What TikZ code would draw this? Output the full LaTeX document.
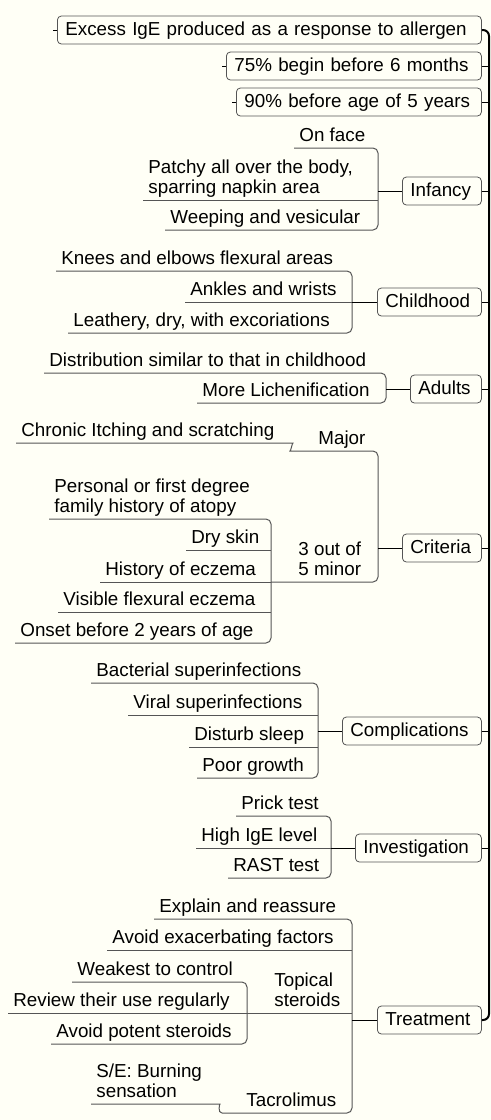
\documentclass[tikz,border=0pt]{standalone}
\usepackage{fontspec}
\setmainfont{Liberation Sans}
\usetikzlibrary{calc}
\definecolor{paper}{RGB}{255,255,246}
\definecolor{lines}{RGB}{85,85,85}

\begin{document}
\begin{tikzpicture}[x=0.5pt, y=-0.5pt,
    every node/.style={font=\fontsize{9.4}{10}\selectfont},
    topic/.style={draw=lines, rounded corners=2pt, anchor=west, inner xsep=4pt, inner ysep=0pt,
      minimum height=14pt, text width=#1, align=left, text height=7pt, text depth=2pt},
    leaf/.style={anchor=south west, inner xsep=2.5pt, inner ysep=0pt, align=left, execute at end node=\strut},
    branch/.style={draw=lines, line width=0.5pt, rounded corners=2.5pt},
    link/.style={draw=black, line width=0.5pt},
    spine/.style={draw=black, line width=1pt, rounded corners=3pt}]
		%%%%% START %%%%%
		\fill[paper] (0, 0) rectangle (491, 1120);
		\useasboundingbox (0, 0) rectangle (491, 1120);
		
		% first three topics
		\node[topic=204pt] (excess) at (57, 30) {Excess IgE produced as a response to allergen};
		\node[topic=119.5pt] (begin) at (226, 66) {75\% begin before 6 months};
		\node[topic=114.5pt] (age) at (236, 102) {90\% before age of 5 years};
		\draw[link] (excess.west) -- ++(-4, 0);
		\draw[link] (begin.west) -- ++(-4, 0);
		\draw[link] (age.west) -- ++(-4, 0);
		
		% infancy
		\node[topic=31.5pt] (infancy) at (402, 191) {Infancy};
		\coordinate (infancy-b) at (378, 191);
		\node[leaf] (face) at (294, 148) {On face};
		\node[leaf] (patchy) at (143, 200) {Patchy all over the body,\\sparring napkin area};
		\node[leaf] (weeping) at (165, 230) {Weeping and vesicular};
		\draw[branch] (face.south west) -| (infancy-b) |- (weeping.south west);
		\draw[branch] (patchy.south west) -- (patchy.south west -| infancy-b);
		\draw[link] (infancy-b) -- (infancy);
		
		% childhood
		\node[topic=44pt] (childhood) at (377, 302) {Childhood};
		\coordinate (childhood-b) at (352, 302);
		\node[leaf] (knees) at (56, 271) {Knees and elbows flexural areas};
		\node[leaf] (ankles) at (185, 302) {Ankles and wrists};
		\node[leaf] (leathery) at (68, 333) {Leathery, dry, with excoriations};
		\draw[branch] (knees.south west) -| (childhood-b) |- (leathery.south west);
		\draw[branch] (ankles.south west) -- (childhood-b);
		\draw[link] (childhood-b) -- (childhood);
		
		% adults
		\node[topic=27.5pt] (adults) at (410, 389) {Adults};
		\coordinate (adults-b) at (386, 389);
		\node[leaf] (distribution) at (44, 373) {Distribution similar to that in childhood};
		\node[leaf] (lichen) at (197, 403) {More Lichenification};
		\draw[branch] (distribution.south west) -| (adults-b) |- (lichen.south west);
		\draw[link] (adults-b) -- (adults);
		
		% criteria
		\node[topic=31.5pt] (criteria) at (402, 548) {Criteria};
		\coordinate (criteria-b) at (378, 548);
		\coordinate (major-b) at (295, 451);
		\coordinate (minor-b) at (271, 582);
		\node[leaf] (chronic) at (16, 443) {Chronic Itching and scratching};
		\node[leaf] (major) at (313, 451) {Major};
		\node[leaf] (minor) at (293, 582) {3 out of\\5 minor};
		\node[leaf] (personal) at (49, 519) {Personal or first degree\\family history of atopy};
		\node[leaf] (dry) at (186, 550) {Dry skin};
		\node[leaf] (history) at (100, 582) {History of eczema};
		\node[leaf] (visible) at (58, 612) {Visible flexural eczema};
		\node[leaf] (onset) at (15, 643) {Onset before 2 years of age};
		\draw[branch] (chronic.south west) -- ($(major-b |- chronic.south west)+(-7, 0)$) to[out=0, in=180] (major-b) -| (criteria-b) |- (minor-b);
		\draw[branch] (personal.south west) -| (minor-b) |- (onset.south west);
		\draw[branch] (dry.south west) -- (dry.south west -| minor-b);
		\draw[branch] (history.south west) -- (minor-b);
		\draw[branch] (visible.south west) -- (visible.south west -| minor-b);
		\draw[link] (criteria-b) -- (criteria);
		
		% complications
		\node[topic=61.5pt] (complications) at (342, 731) {Complications};
		\coordinate (complications-b) at (318, 731);
		\node[leaf] (bacterial) at (91, 683) {Bacterial superinfections};
		\node[leaf] (viral) at (128, 715) {Viral superinfections};
		\node[leaf] (sleep) at (189, 747) {Disturb sleep};
		\node[leaf] (growth) at (197, 778) {Poor growth};
		\draw[branch] (bacterial.south west) -| (complications-b) |- (growth.south west);
		\draw[branch] (viral.south west) -- (viral.south west -| complications-b);
		\draw[branch] (sleep.south west) -- (sleep.south west -| complications-b);
		\draw[link] (complications-b) -- (complications);
		
		% investigation
		\node[topic=55pt] (investigation) at (355, 848) {Investigation};
		\coordinate (investigation-b) at (331, 848);
		\node[leaf] (prick) at (236, 816) {Prick test};
		\node[leaf] (high) at (196, 848) {High IgE level};
		\node[leaf] (rast) at (228, 878) {RAST test};
		\draw[branch] (prick.south west) -| (investigation-b) |- (rast.south west);
		\draw[branch] (high.south west) -- (investigation-b);
		\draw[link] (investigation-b) -- (investigation);
		
		% treatment
		\node[topic=44pt] (treatment) at (377, 1020) {Treatment};
		\coordinate (treatment-b) at (352, 1020);
		\coordinate (topical-b) at (247, 1013);
		\coordinate (tacrolimus-b) at (222, 1113);
		\node[leaf] (explain) at (154, 919) {Explain and reassure};
		\node[leaf] (avoid) at (107, 950) {Avoid exacerbating factors};
		\node[leaf] (topical) at (269, 1013) {Topical\\steroids};
		\node[leaf] (tacrolimus) at (241, 1113) {Tacrolimus};
		\node[leaf] (weakest) at (72, 982) {Weakest to control};
		\node[leaf] (review) at (8, 1013) {Review their use regularly};
		\node[leaf] (potent) at (51, 1044) {Avoid potent steroids};
		\node[leaf] (burning) at (91, 1104) {S/E: Burning\\sensation};
		\draw[branch] (explain.south west) -| (treatment-b) |- (tacrolimus-b);
		\draw[branch] (avoid.south west) -- (avoid.south west -| treatment-b);
		\draw[branch] (topical-b) -- (topical-b -| treatment-b);
		\draw[branch] (weakest.south west) -| (topical-b) |- (potent.south west);
		\draw[branch] (review.south west) -- (topical-b);
		\draw[branch] (burning.south west) -- ($(tacrolimus-b |- burning.south west)+(-7, 0)$) to[out=0, in=180] (tacrolimus-b);
		\draw[link] (treatment-b) -- (treatment);
		
		% spine on the right
		\coordinate (spine) at (489, 0);
		\draw[spine] (excess.east) -| (spine |- treatment.east) -- (treatment.east);
		\draw[link] (begin.east) -- (begin.east -| spine);
		\draw[link] (age.east) -- (age.east -| spine);
		\draw[link] (infancy.east) -- (infancy.east -| spine);
		\draw[link] (childhood.east) -- (childhood.east -| spine);
		\draw[link] (adults.east) -- (adults.east -| spine);
		\draw[link] (criteria.east) -- (criteria.east -| spine);
		\draw[link] (complications.east) -- (complications.east -| spine);
		\draw[link] (investigation.east) -- (investigation.east -| spine);
		%%%%% END %%%%%
\end{tikzpicture}
\end{document}
